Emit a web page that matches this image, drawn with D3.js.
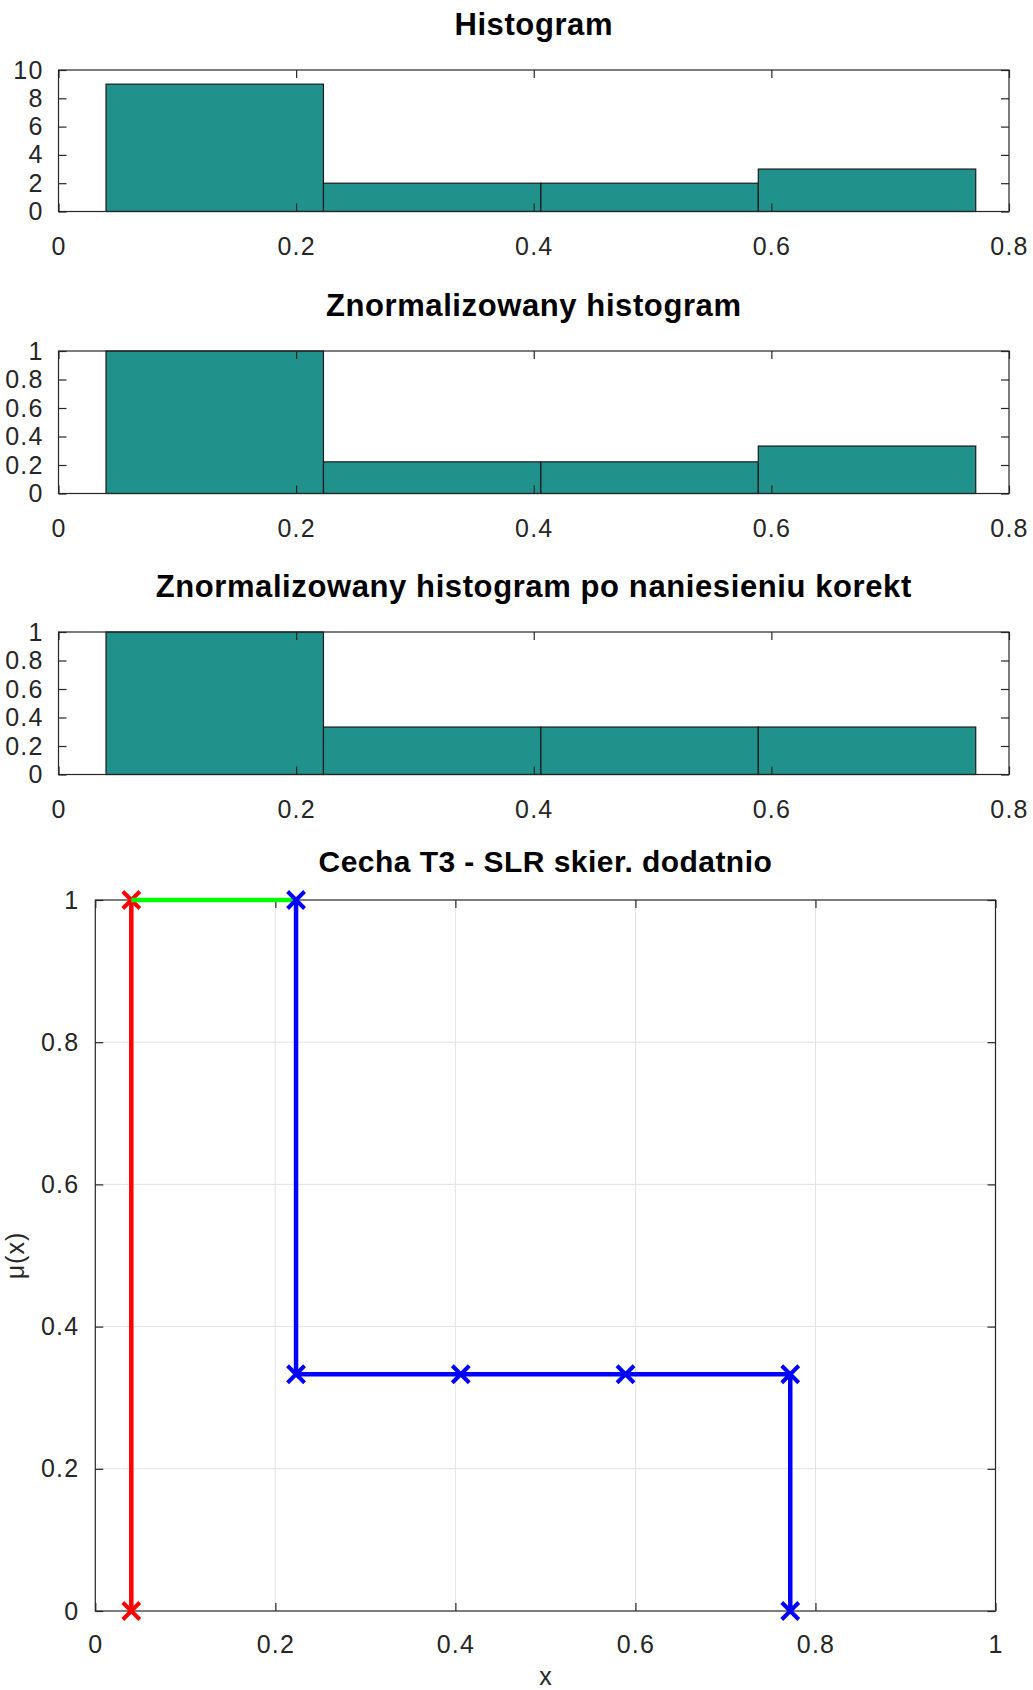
<!DOCTYPE html>
<html>
<head>
<meta charset="utf-8">
<script src="https://cdn.jsdelivr.net/npm/d3@7"></script>
<style>
  html, body { margin: 0; padding: 0; background: #fff; }
  svg { display: block; }
  text { font-family: "Liberation Sans", Arial, Helvetica, sans-serif; }
</style>
</head>
<body>
<div id="chart"></div>
<script>
// Histogram bins (shared by the three histogram panels)
const binEdges = [0.040, 0.223, 0.406, 0.589, 0.772];
const counts = [9, 2, 2, 3];
const normalized = [1, 0.222, 0.222, 0.333];
const corrected = [1, 0.333, 0.333, 0.333];

const histTitles = [
  "Histogram",
  "Znormalizowany histogram",
  "Znormalizowany histogram po naniesieniu korekt"
];
const histXTicks = [0, 0.2, 0.4, 0.6, 0.8];
const countTicks = [0, 2, 4, 6, 8, 10];
const unitTicks = [0, 0.2, 0.4, 0.6, 0.8, 1];

// Membership function segments
const redPts = [[0.040, 0], [0.040, 1]];
const greenPts = [[0.040, 1], [0.223, 1]];
const bluePts = [[0.223, 1], [0.223, 0.333], [0.406, 0.333], [0.589, 0.333], [0.772, 0.333], [0.772, 0]];
const mfTitle = "Cecha T3 - SLR skier. dodatnio";
const mfTicks = [0, 0.2, 0.4, 0.6, 0.8, 1];
const gridTicks = [0.2, 0.4, 0.6, 0.8];

const W = 1033, H = 1690;
const axisColor = "#262626";
const barFill = "#21918c";
const tickFont = 25;

const svg = d3.select("#chart").append("svg")
  .attr("width", W).attr("height", H);

function styleAxis(g) {
  g.select(".domain").remove();
  g.selectAll(".tick line").attr("stroke", axisColor).attr("stroke-width", 1.2);
  g.selectAll(".tick text").attr("fill", axisColor)
    .style("font-size", tickFont + "px")
    .style("letter-spacing", "1.2px");
}

function frame(g, x0, x1, y0, y1) {
  g.append("rect")
    .attr("x", x0).attr("y", y0)
    .attr("width", x1 - x0).attr("height", y1 - y0)
    .attr("fill", "none").attr("stroke", axisColor).attr("stroke-width", 1.2);
}

function title(g, x, y, text, size, spacing) {
  g.append("text")
    .attr("x", x).attr("y", y)
    .attr("text-anchor", "middle")
    .style("font-size", size + "px")
    .style("font-weight", "bold")
    .style("letter-spacing", spacing + "px")
    .attr("fill", "#000")
    .text(text);
}

// Histogram panels
const histLeft = 58.5, histRight = 1009;
const panels = [
  { top: 70, bottom: 211.5, values: counts, yMax: 10, yTicks: countTicks },
  { top: 351, bottom: 493.5, values: normalized, yMax: 1, yTicks: unitTicks },
  { top: 632, bottom: 774.5, values: corrected, yMax: 1, yTicks: unitTicks }
];

panels.forEach((p, i) => {
  const g = svg.append("g");
  const x = d3.scaleLinear().domain([0, 0.8]).range([histLeft, histRight]);
  const y = d3.scaleLinear().domain([0, p.yMax]).range([p.bottom, p.top]);

  title(g, (histLeft + histRight) / 2, p.top - 35, histTitles[i], 31, 0.6);

  // bars
  g.selectAll("rect.bar")
    .data(p.values)
    .join("rect")
    .attr("class", "bar")
    .attr("x", (d, k) => x(binEdges[k]))
    .attr("width", (d, k) => x(binEdges[k + 1]) - x(binEdges[k]))
    .attr("y", d => y(d))
    .attr("height", d => y(0) - y(d))
    .attr("fill", barFill)
    .attr("stroke", "#1a1a1a")
    .attr("stroke-width", 1.2);

  frame(g, histLeft, histRight, p.top, p.bottom);

  g.append("g").attr("transform", `translate(0,${p.bottom})`)
    .call(d3.axisBottom(x).tickValues(histXTicks).tickSize(-8).tickSizeOuter(0)
      .tickPadding(26).tickFormat(d3.format("~g")))
    .call(styleAxis);
  g.append("g").attr("transform", `translate(0,${p.top})`)
    .call(d3.axisTop(x).tickValues(histXTicks).tickSize(-8).tickSizeOuter(0).tickFormat(""))
    .call(styleAxis);
  g.append("g").attr("transform", `translate(${histLeft},0)`)
    .call(d3.axisLeft(y).tickValues(p.yTicks).tickSize(-8).tickSizeOuter(0)
      .tickPadding(15).tickFormat(d3.format("~g")))
    .call(styleAxis);
  g.append("g").attr("transform", `translate(${histRight},0)`)
    .call(d3.axisRight(y).tickValues(p.yTicks).tickSize(-8).tickSizeOuter(0).tickFormat(""))
    .call(styleAxis);
});

// Membership function panel
const mLeft = 95.3, mRight = 995.5, mTop = 900, mBottom = 1611;
const mx = d3.scaleLinear().domain([0, 1]).range([mLeft, mRight]);
const my = d3.scaleLinear().domain([0, 1]).range([mBottom, mTop]);
const mg = svg.append("g");

title(mg, (mLeft + mRight) / 2, mTop - 28, mfTitle, 30, 0.45);

// grid
mg.selectAll("line.gx").data(gridTicks).join("line")
  .attr("x1", d => mx(d)).attr("x2", d => mx(d))
  .attr("y1", mTop).attr("y2", mBottom)
  .attr("stroke", "#e3e3e3").attr("stroke-width", 1);
mg.selectAll("line.gy").data(gridTicks).join("line")
  .attr("y1", d => my(d)).attr("y2", d => my(d))
  .attr("x1", mLeft).attr("x2", mRight)
  .attr("stroke", "#e3e3e3").attr("stroke-width", 1);

frame(mg, mLeft, mRight, mTop, mBottom);

mg.append("g").attr("transform", `translate(0,${mBottom})`)
  .call(d3.axisBottom(mx).tickValues(mfTicks).tickSize(-8).tickSizeOuter(0)
    .tickPadding(24).tickFormat(d3.format("~g")))
  .call(styleAxis);
mg.append("g").attr("transform", `translate(0,${mTop})`)
  .call(d3.axisTop(mx).tickValues(mfTicks).tickSize(-8).tickSizeOuter(0).tickFormat(""))
  .call(styleAxis);
mg.append("g").attr("transform", `translate(${mLeft},0)`)
  .call(d3.axisLeft(my).tickValues(mfTicks).tickSize(-8).tickSizeOuter(0)
    .tickPadding(16).tickFormat(d3.format("~g")))
  .call(styleAxis);
mg.append("g").attr("transform", `translate(${mRight},0)`)
  .call(d3.axisRight(my).tickValues(mfTicks).tickSize(-8).tickSizeOuter(0).tickFormat(""))
  .call(styleAxis);

// axis labels
mg.append("text")
  .attr("x", (mLeft + mRight) / 2)
  .attr("y", 1685)
  .attr("text-anchor", "middle")
  .attr("fill", axisColor)
  .style("font-size", tickFont + "px")
  .text("x");
mg.append("text")
  .attr("transform", `translate(24,${(mTop + mBottom) / 2}) rotate(-90)`)
  .attr("text-anchor", "middle")
  .attr("fill", axisColor)
  .style("font-size", tickFont + "px")
  .style("letter-spacing", "1px")
  .text("μ(x)");

const line = d3.line().x(d => mx(d[0])).y(d => my(d[1]));

function series(pts, color, markers) {
  mg.append("path").datum(pts)
    .attr("d", line)
    .attr("fill", "none")
    .attr("stroke", color)
    .attr("stroke-width", 4.5)
    .attr("stroke-linejoin", "miter");
  if (markers) {
    const s = 8.5;
    mg.selectAll(null).data(pts).join("path")
      .attr("d", d => {
        const cx = mx(d[0]), cy = my(d[1]);
        return `M${cx - s},${cy - s}L${cx + s},${cy + s}M${cx - s},${cy + s}L${cx + s},${cy - s}`;
      })
      .attr("stroke", color)
      .attr("stroke-width", 4)
      .attr("fill", "none");
  }
}

series(redPts, "#ff0000", true);
series(greenPts, "#00ff00", false);
series(bluePts, "#0000ff", true);
</script>
</body>
</html>
